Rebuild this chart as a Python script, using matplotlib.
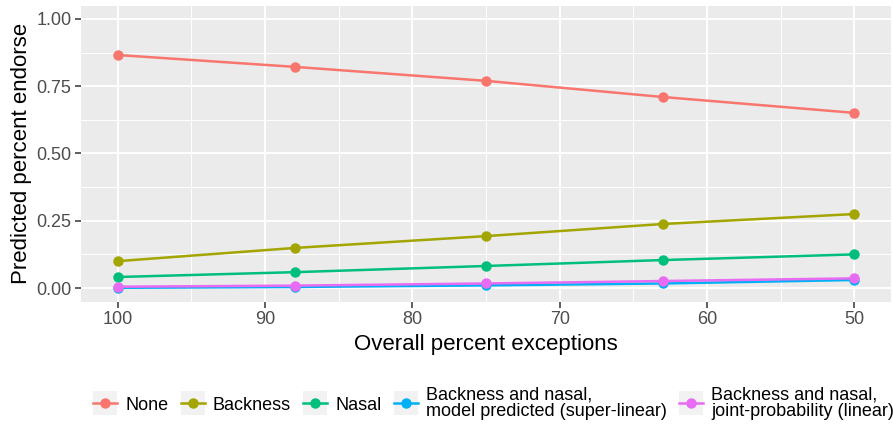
import matplotlib
matplotlib.use("Agg")
import matplotlib.pyplot as plt
from matplotlib.lines import Line2D
from matplotlib.patches import Rectangle
from matplotlib.legend_handler import HandlerLine2D
from matplotlib.ticker import MultipleLocator

plt.rcParams['font.family'] = ['Liberation Sans', 'DejaVu Sans']

x_vals = [100, 88, 75, 63, 50]
series_names = ["None", "Backness", "Nasal",
                "Backness and nasal,\nmodel predicted (super-linear)",
                "Backness and nasal,\njoint-probability (linear)"]
none_vals = [0.866, 0.822, 0.770, 0.710, 0.651]
backness_vals = [0.100, 0.149, 0.193, 0.238, 0.275]
nasal_vals = [0.041, 0.059, 0.082, 0.104, 0.125]
super_vals = [0.001, 0.004, 0.010, 0.017, 0.030]
linear_vals = [0.005, 0.009, 0.017, 0.026, 0.036]
colors = ["#F8766D", "#A3A500", "#00BF7D", "#00B0F6", "#E76BF3"]
all_series = [none_vals, backness_vals, nasal_vals, super_vals, linear_vals]

W, H = 893, 430
fig = plt.figure(figsize=(W / 100, H / 100), dpi=100)
ax = fig.add_axes([81 / W, (H - 301.5) / H, (891 - 81) / W, (301.5 - 5.5) / H])
ax.set_facecolor("#EBEBEB")
for s in ax.spines.values():
    s.set_visible(False)

ax.set_xlim(102.5, 47.5)
ax.set_ylim(-0.05, 1.05)
ax.xaxis.set_major_locator(MultipleLocator(10))
ax.xaxis.set_minor_locator(MultipleLocator(5))
ax.yaxis.set_major_locator(MultipleLocator(0.25))
ax.yaxis.set_minor_locator(MultipleLocator(0.125))
ax.set_yticks([0, 0.25, 0.5, 0.75, 1.0])
ax.set_yticklabels(["0.00", "0.25", "0.50", "0.75", "1.00"])
ax.set_xticks([100, 90, 80, 70, 60, 50])
ax.grid(which="major", color="white", linewidth=1.4)
ax.grid(which="minor", color="white", linewidth=0.7)
ax.set_axisbelow(True)
ax.tick_params(which="major", length=4, width=1.1, color="#333333",
               labelsize=13, labelcolor="#4D4D4D", pad=3)
ax.tick_params(which="minor", length=0)

for vals, c in zip(all_series, colors):
    ax.plot(x_vals, vals, color=c, linewidth=1.8, marker="o", markersize=7.5,
            markeredgewidth=0, zorder=3)

ax.set_xlabel("Overall percent exceptions", fontsize=16, labelpad=4)
ax.set_ylabel("Predicted percent endorse", fontsize=16, labelpad=3)


class KeyHandler(HandlerLine2D):
    def create_artists(self, legend, orig_handle, xdescent, ydescent,
                       width, height, fontsize, trans):
        bg = Rectangle((-xdescent, -ydescent - 0.45 * height), width, height * 1.9,
                       facecolor="#F2F2F2", edgecolor="none", transform=trans)
        arts = super().create_artists(legend, orig_handle, xdescent, ydescent,
                                      width, height, fontsize, trans)
        return [bg] + list(arts)


handles = [Line2D([], [], color=c, linewidth=1.8, marker="o", markersize=7.5,
                  markeredgewidth=0) for c in colors]
leg = fig.legend(handles, series_names, loc="center left",
                 bbox_to_anchor=(93 / W, (H - 403) / H),
                 ncol=5, frameon=False, fontsize=13, handlelength=1.33,
                 handletextpad=0.45, columnspacing=0.68, labelspacing=0.2,
                 borderpad=0, borderaxespad=0,
                 handler_map={Line2D: KeyHandler(numpoints=1)})
for t in leg.get_texts():
    t.set_linespacing(1.0)

fig.savefig("out.png", dpi=100)
